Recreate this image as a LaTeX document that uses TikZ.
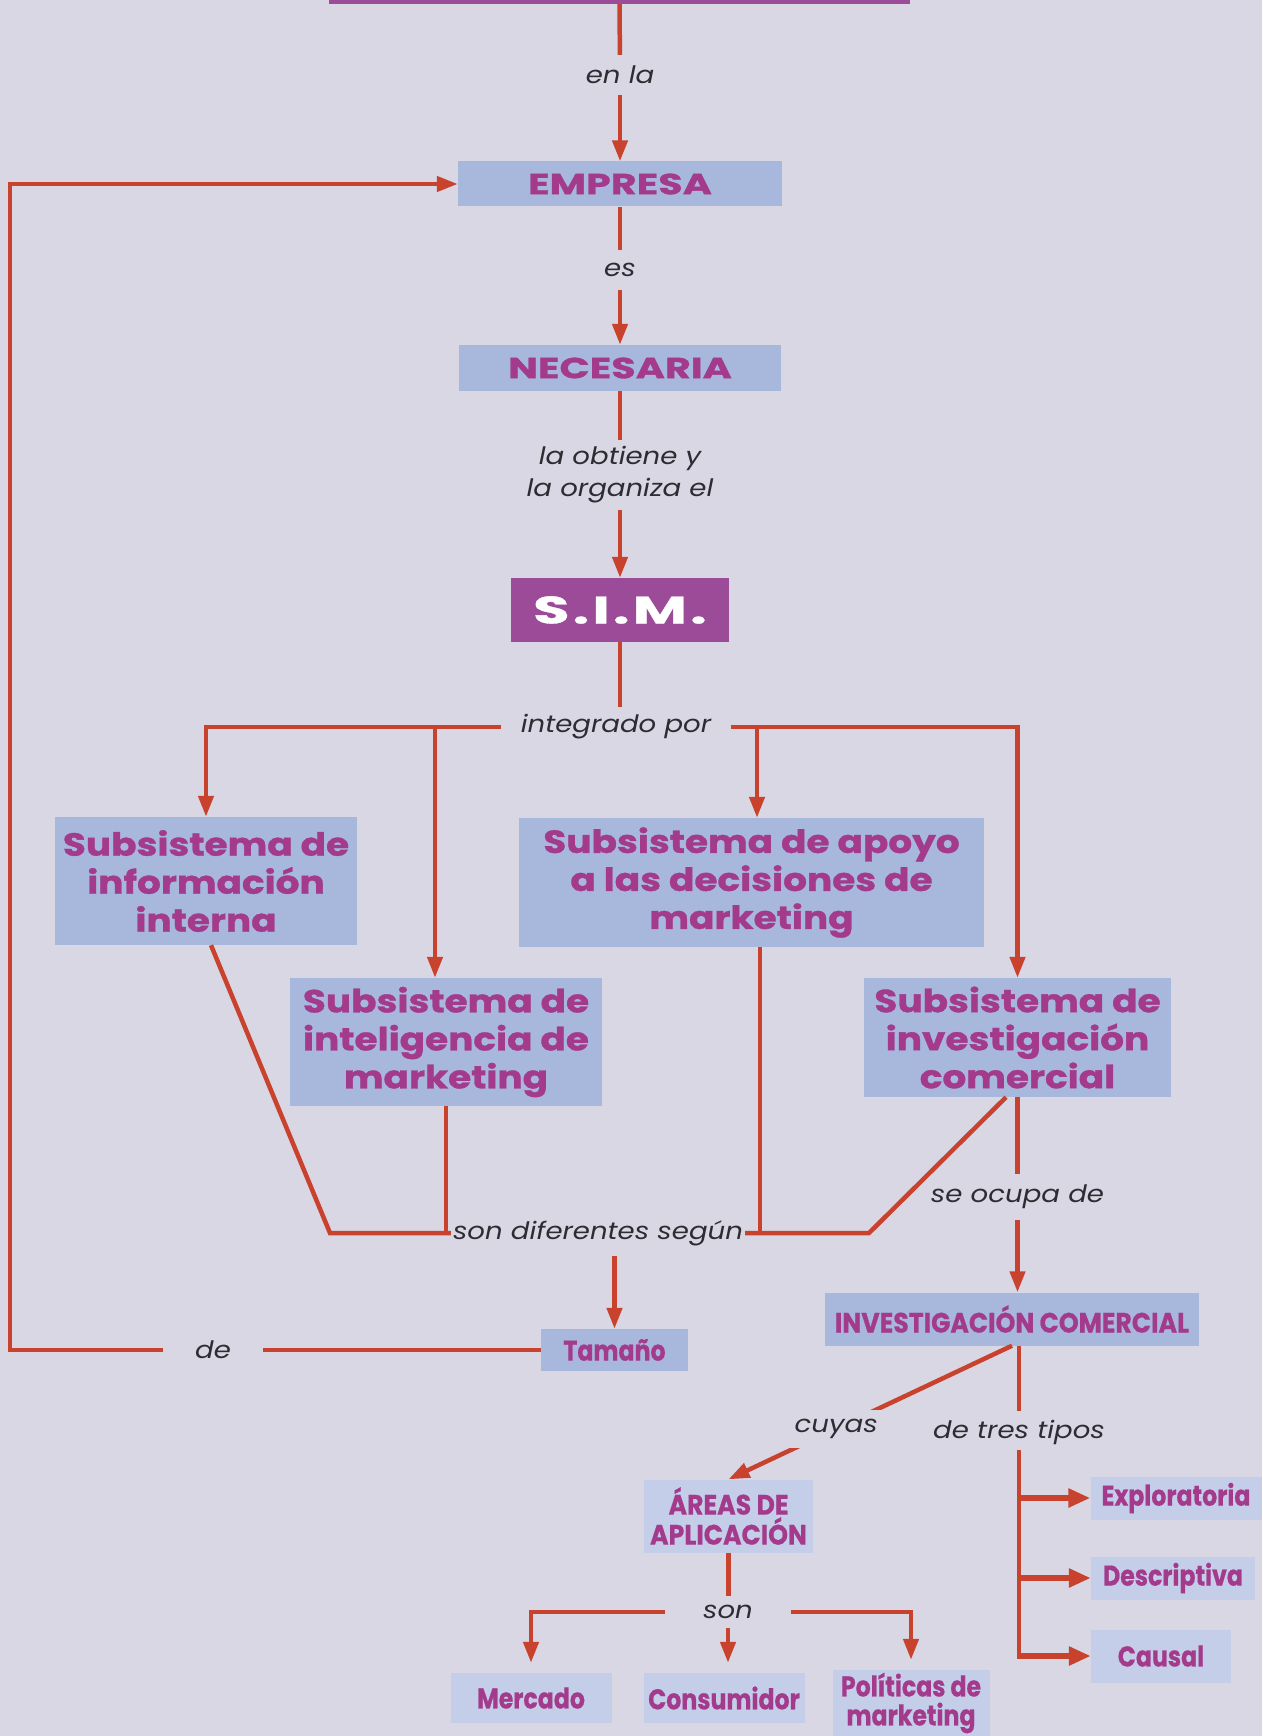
\documentclass[tikz,border=0pt]{standalone}
\usepackage{fontspec}
\usetikzlibrary{arrows.meta,calc}

% Typefaces: a wide geometric heavy face for the main boxes, a narrowed one for
% the small boxes, and an oblique for the connector captions.
\newfontfamily\lblfamily[FakeStretch=1.15]{Poppins}
\newfontfamily\widefamily[FakeStretch=1.17,FakeBold=1]{Poppins}
\newfontfamily\capsfamily[FakeStretch=1.37,FakeBold=1]{Poppins}
\newfontfamily\simfamily[FakeStretch=1.56,LetterSpace=8,FakeBold=1]{Poppins}
\newfontfamily\narrowfamily[FakeStretch=0.83,FakeBold=0.6]{Poppins}
\newfontfamily\narcapsfamily[FakeStretch=0.9,FakeBold=0.6]{Poppins}

\newcommand\boxsubfont{\widefamily\bfseries\fontsize{32}{38}\selectfont}
\newcommand\boxcapfont{\capsfamily\bfseries\fontsize{29}{34}\selectfont}
\newcommand\boxnarfont{\narrowfamily\bfseries\fontsize{28.5}{29}\selectfont}
\newcommand\boxnarcapfont{\narcapsfamily\bfseries\fontsize{28}{30}\selectfont}
\newcommand\boxsimfont{\simfamily\bfseries\fontsize{38}{40}\selectfont}
\newcommand\captionfont{\lblfamily\itshape\fontsize{24}{32}\selectfont}

\definecolor{pagebg}{HTML}{D8D7E3}
\definecolor{boxblue}{HTML}{A8B8DC}
\definecolor{boxpale}{HTML}{C4CEE9}
\definecolor{magtext}{HTML}{A33A8C}
\definecolor{simfill}{HTML}{9C4B98}
\definecolor{linkred}{HTML}{C8422E}
\definecolor{captext}{HTML}{2E2C33}

\tikzset{
  box/.style={fill=boxblue, text=magtext, inner sep=0pt, align=center},
  palebox/.style={box, fill=boxpale},
  sz/.style 2 args={minimum width=#1pt, minimum height=#2pt},
  link/.style={draw=linkred, line width=4.5pt},
  arr/.style={link, -{Triangle[length=21pt,width=15pt]}},
  fat/.style={draw=linkred, line width=6pt, -{Triangle[length=22pt,width=18pt]}},
  lbl/.style={fill=pagebg, inner sep=0pt, text=captext, align=center, font=\captionfont},
}

\begin{document}
\begin{tikzpicture}[x=1pt,y=-1pt]
\useasboundingbox (0,0) rectangle (1262,1736);
\fill[pagebg] (0,0) rectangle (1262,1736);
\clip (0,0) rectangle (1262,1736);

% ---- boxes ----
\node[box, fill=simfill, sz={581}{14}] (topbar) at (619.5,-3) {};
\node[box, sz={324}{45}, font=\boxcapfont] (empresa) at (620,184) {EMPRESA};
\node[box, sz={322}{46}, font=\boxcapfont] (necesaria) at (620,368) {NECESARIA};
\node[box, fill=simfill, text=white, sz={218}{64}, font=\boxsimfont] (sim) at (620,610) {S.I.M.};

\node[box, sz={302}{128}, font=\boxsubfont] (info) at (206,881) {Subsistema de\\información\\interna};
\node[box, sz={465}{129}, font=\boxsubfont] (apoyo) at (751.5,882.5) {Subsistema de apoyo\\a las decisiones de\\marketing};
\node[box, sz={312}{128}, font=\boxsubfont] (intel) at (446,1042) {Subsistema de\\inteligencia de\\marketing};
\node[box, sz={307}{119}, font=\boxsubfont] (invest) at (1017.5,1037.5) {Subsistema de\\investigación\\comercial};

\node[box, sz={147}{42}, font=\boxnarfont] (tamano) at (614.5,1350) {Tamaño};
\node[box, sz={374}{53}, font=\boxnarcapfont] (invcom) at (1012,1319) {INVESTIGACIÓN COMERCIAL};
\node[palebox, sz={169}{73}, font=\boxnarcapfont] (areas) at (728.5,1516) {ÁREAS DE\\APLICACIÓN};
\node[palebox, sz={161}{50}, font=\boxnarfont] (mercado) at (531,1698) {Mercado};
\node[palebox, sz={161}{50}, font=\boxnarfont] (consum) at (724,1698) {Consumidor};
\node[palebox, sz={157}{66}, font=\boxnarfont] (polit) at (911,1703) {Políticas de\\marketing};
\node[palebox, sz={171}{43}, font=\boxnarfont] (explor) at (1176,1498) {Exploratoria};
\node[palebox, sz={164}{43}, font=\boxnarfont] (descr) at (1173,1578) {Descriptiva};
\node[palebox, sz={140}{53}, font=\boxnarfont] (causal) at (1161,1656) {Causal};

% ---- captions on the connectors ----
\node[lbl, minimum height=40pt] (cenla) at (620,75) {en la};
\node[lbl, minimum height=40pt] (ces) at (620,270) {es};
\node[lbl, minimum height=70pt] (cobt) at (620,475) {la obtiene y\\la organiza el};
\node[lbl, minimum width=229pt, minimum height=40pt] (cint) at (616,727) {integrado por};
\node[lbl, minimum width=294pt, minimum height=46pt] (cson) at (598,1233) {son diferentes según};
\node[lbl, minimum height=45pt] (cocupa) at (1017.5,1197) {se ocupa de};
\node[lbl, minimum width=99pt, minimum height=30pt] (cde) at (213,1350) {de};
\node[lbl, minimum height=41pt] (ctres) at (1019,1432) {de tres tipos};
\node[lbl, minimum width=125pt, minimum height=31pt] (cson2) at (728,1612) {son};

% ---- main chain ----
\draw[link] (topbar) -- (cenla);
\draw[arr] (cenla) -- (empresa);
\draw[link] (empresa) -- (ces);
\draw[arr] (ces) -- (necesaria);
\draw[link] (necesaria) -- (cobt);
\draw[arr] (cobt) -- (sim);
\draw[link] (sim.south) -- (sim.south |- cint.north);

% ---- the four subsystems ----
\draw[arr] (cint.west) -| (info.north);
\draw[arr] (cint.east) -| (invest.north);
\path ($(intel.north)+(-11,0)$) coordinate (intelin);
\draw[arr] (intelin |- cint.west) -- (intelin);
\path ($(apoyo.north)+(5.5,0)$) coordinate (apoyoin);
\draw[arr] (apoyoin |- cint.east) -- (apoyoin);

% ---- size ----
\coordinate (sonL) at (330,1233);
\coordinate (sonR) at (869,1233);
\draw[link] ($(info.south)+(5,0)$) -- (sonL) -- (cson.west);
\draw[link] (intel.south) -- (intel.south |- cson.west);
\path ($(apoyo.south)+(8.5,0)$) coordinate (apoyoout);
\draw[link] (apoyoout) -- (apoyoout |- cson.east);
\draw[link] ($(invest.south)+(-11.5,0)$) -- (sonR) -- (cson.east);
\draw[arr] (tamano.north |- cson.south) -- (tamano.north);

% ---- feedback loop back to the company ----
\coordinate (loopcorner) at (10,1350);
\draw[link] (tamano.west) -- (cde);
\draw[arr] (cde) -- (loopcorner) |- (empresa.west);

% ---- market research ----
\draw[link] (invest.south) -- (cocupa);
\draw[arr] (cocupa) -- (cocupa |- invcom.north);

\draw[link] (invcom.south -| ctres) -- (ctres);
\path (ctres.south |- causal.west) coordinate (trunkend);
\draw[link, line cap=rect] (ctres) -- (trunkend);
\draw[fat] ($(trunkend |- explor.west)+(-2,0)$) -- (explor.west);
\draw[fat] ($(trunkend |- descr.west)+(-2,0)$) -- (descr.west);
\draw[fat] ($(trunkend)+(-2,0)$) -- (causal.west);

\draw[arr] (invcom.south) -- node[lbl, pos=0.62, minimum width=92pt, minimum height=38pt] (ccuyas) {cuyas} (areas.north);

\draw[link] (areas.south) -- (areas.south |- cson2.north);
\draw[arr, shorten >=10pt] (cson2.west) -| (mercado.north);
\draw[arr, shorten >=10pt] (cson2.south) -- (cson2.south |- consum.north);
\draw[arr, shorten >=10pt] (cson2.east) -| (polit.north);
\end{tikzpicture}
\end{document}
